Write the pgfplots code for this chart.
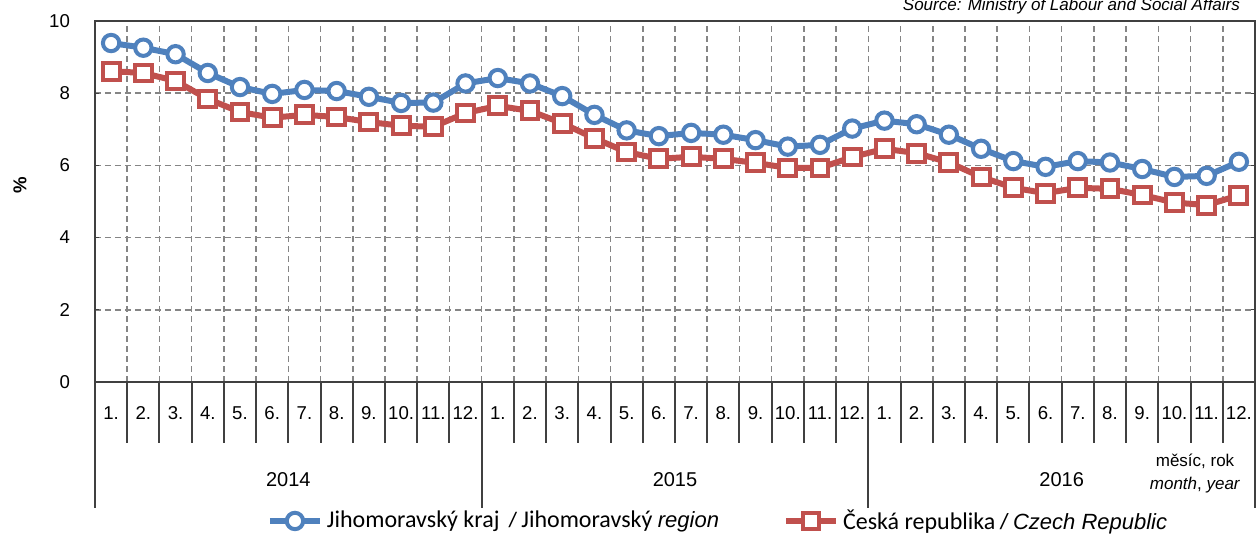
\documentclass[border=0pt]{standalone}
\usepackage{fontspec}
\setmainfont{Liberation Sans}
\newfontfamily\calibri{Carlito}
\usepackage{pgfplots}
\usepackage{pgfplotstable}
\pgfplotsset{compat=1.18}

\definecolor{jmk}{HTML}{4F81BD}
\definecolor{cr}{HTML}{C0504D}
\definecolor{framec}{HTML}{404040}
\definecolor{gridc}{HTML}{858585}

% podil nezamestnanych, mesicne 2014-2016
\pgfplotstableread{
x  jmk   cr
0  9.39  8.61
1  9.26  8.56
2  9.08  8.34
3  8.56  7.84
4  8.17  7.48
5  7.98  7.32
6  8.09  7.40
7  8.06  7.34
8  7.90  7.20
9  7.73  7.10
10 7.74  7.07
11 8.27  7.45
12 8.42  7.65
13 8.27  7.51
14 7.92  7.17
15 7.40  6.75
16 6.97  6.37
17 6.81  6.18
18 6.90  6.24
19 6.85  6.18
20 6.70  6.07
21 6.52  5.93
22 6.57  5.93
23 7.02  6.23
24 7.24  6.46
25 7.14  6.34
26 6.85  6.08
27 6.46  5.68
28 6.12  5.38
29 5.96  5.23
30 6.12  5.38
31 6.08  5.35
32 5.90  5.18
33 5.68  4.97
34 5.71  4.90
35 6.10  5.17
}\rates

\begin{document}
\begin{tikzpicture}
\begin{axis}[
    scale only axis,
    width=580pt, height=180.5pt,
    xmin=-0.5, xmax=35.5,
    ymin=0, ymax=10,
    ytick={0,2,...,10},
    xtick={0,...,35},
    xticklabels={1.,2.,3.,4.,5.,6.,7.,8.,9.,10.,11.,12.,
                 1.,2.,3.,4.,5.,6.,7.,8.,9.,10.,11.,12.,
                 1.,2.,3.,4.,5.,6.,7.,8.,9.,10.,11.,12.},
    minor xtick={0.5,1.5,...,34.5},
    xminorgrids, ymajorgrids,
    major grid style={gridc, line width=0.75pt, dash pattern=on 3pt off 2pt},
    minor grid style={gridc, line width=0.75pt, dash pattern=on 3pt off 2pt},
    axis line style={framec, line width=1pt},
    x tick style={draw=none},
    minor tick length=0pt,
    y tick style={framec, line width=0.6pt},
    major tick length=2pt,
    tick align=inside,
    font=\fontsize{9.3}{11}\selectfont,
    /pgf/number format/assume math mode=true,
    xticklabel style={anchor=center, yshift=-15.5pt},
    yticklabel style={anchor=east, xshift=-9pt},
    ylabel={\bfseries\%},
    ylabel style={at={(axis description cs:-0.0647,0.546)}, anchor=center},
    clip=false,
    legend columns=2,
    legend style={at={(0.538,-0.385)}, anchor=center, draw=none, fill=none,
        font=\calibri\fontsize{12}{14}\selectfont,
        /tikz/every even column/.append style={column sep=30pt}},
    legend image code/.code={
        \draw[mark repeat=2, mark phase=2, #1]
        plot coordinates {(0pt,0pt) (12.5pt,0pt) (25pt,0pt)};},
]
\addplot[jmk, line width=3pt, mark=*, mark size=4.1pt,
    mark options={fill=white, draw=jmk, line width=2pt}]
    table[x=x, y=jmk]{\rates};
\addlegendentry{Jihomoravský kraj\hspace{5pt}{\normalfont\itshape\fontsize{10.5}{12}\selectfont/}\hspace{3pt}Jihomoravský {\normalfont\itshape\fontsize{11}{12}\selectfont region}}
\addplot[cr, line width=3pt, mark=square*, mark size=4.2pt,
    mark options={fill=white, draw=cr, line width=2pt}]
    table[x=x, y=cr]{\rates};
\addlegendentry{Česká republika {\normalfont\itshape\fontsize{11}{12}\selectfont / Czech Republic}}

% separatory mesicu a let pod osou
\pgfplotsinvokeforeach{-0.5,0.5,...,35.5}{
    \draw[framec, line width=1pt] (axis cs:#1,0) -- ++(0pt,-30.5pt);}
\pgfplotsinvokeforeach{-0.5,11.5,23.5,35.5}{
    \draw[framec, line width=1pt] (axis cs:#1,0) -- ++(0pt,-63pt);}
\node[font=\fontsize{10}{12}\selectfont] at (axis cs:5.5,0)  [yshift=-49pt] {2014};
\node[font=\fontsize{10}{12}\selectfont] at (axis cs:17.5,0) [yshift=-49pt] {2015};
\node[font=\fontsize{10}{12}\selectfont] at (axis cs:29.5,0) [yshift=-49pt] {2016};
\node[font=\fontsize{8.5}{11.5}\selectfont, align=center]
    at (axis cs:33.64,0) [yshift=-45.75pt] {měsíc, rok\\\textit{month}, \textit{year}};
\node[anchor=base east, font=\itshape\fontsize{8.5}{10}\selectfont]
    at (rel axis cs:1,1) [xshift=-4pt, yshift=5pt] {Source: Ministry of Labour and Social Affairs};
\end{axis}
\pgfresetboundingbox
\path[use as bounding box] (-47.5pt,-76pt) rectangle (582.5pt,191pt);
\end{tikzpicture}
\end{document}
